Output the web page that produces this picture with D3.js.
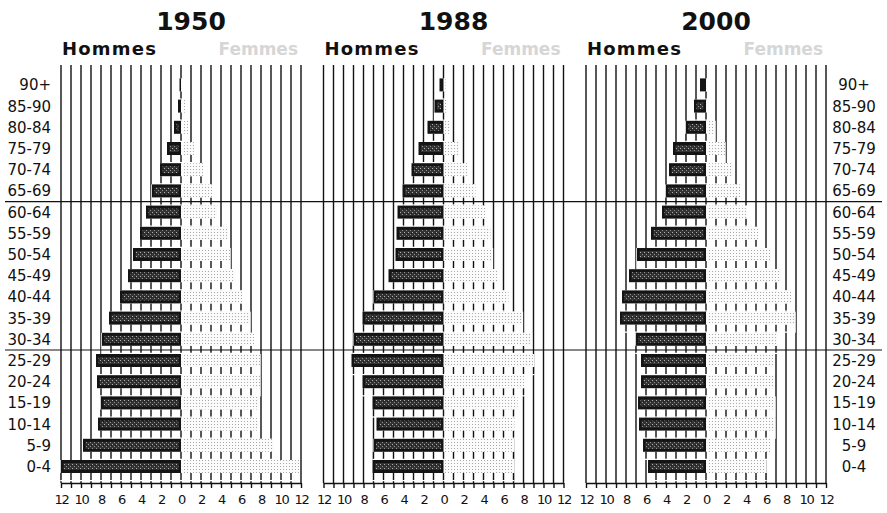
<!DOCTYPE html>
<html>
<head>
<meta charset="utf-8">
<script src="https://cdn.jsdelivr.net/npm/d3@7"></script>
<style>
  body { margin: 0; background: #fff; }
  svg { display: block; }
</style>
</head>
<body>
<div id="chart"></div>
<script>
// age groups, bottom to top
const ages = ["0-4", "5-9", "10-14", "15-19", "20-24", "25-29", "30-34", "35-39", "40-44",
              "45-49", "50-54", "55-59", "60-64", "65-69", "70-74", "75-79", "80-84", "85-90", "90+"];
const years = ["1950", "1988", "2000"];

// % of population, same order as ages
const hommes1950 = [12.0, 9.8, 8.3, 8.0, 8.4, 8.5, 7.9, 7.2, 6.1, 5.3, 4.8, 4.1, 3.5, 2.9, 2.1, 1.4, 0.7, 0.3, 0.15];
const femmes1950 = [11.8, 9.3, 7.7, 7.8, 7.9, 7.9, 7.3, 6.9, 6.1, 5.4, 4.9, 4.7, 3.6, 3.1, 2.2, 1.3, 0.7, 0.4, 0.2];
const hommes1988 = [7.1, 7.0, 6.7, 7.1, 8.1, 9.2, 9.0, 8.1, 7.0, 5.5, 4.8, 4.7, 4.6, 4.1, 3.2, 2.5, 1.6, 0.9, 0.4];
const femmes1988 = [7.0, 7.0, 7.1, 7.4, 8.1, 9.0, 8.8, 7.9, 6.5, 5.4, 4.9, 4.7, 4.2, 3.2, 2.4, 1.6, 0.7, 0.4, 0.2];
const hommes2000 = [5.8, 6.3, 6.7, 6.8, 6.5, 6.5, 7.0, 8.6, 8.4, 7.7, 6.9, 5.5, 4.4, 4.0, 3.7, 3.3, 2.0, 1.2, 0.6];
const femmes2000 = [6.0, 6.4, 6.9, 6.9, 6.8, 6.8, 7.1, 8.9, 8.5, 7.5, 6.5, 5.2, 4.1, 3.4, 2.7, 1.9, 0.9, 0.3, 0.2];

const axisMax = 12;
const sexLabels = ["Hommes", "Femmes"];

const w = 887;
const h = 513;
const svg = d3.select("#chart")
              .append("svg")
              .attr("width", w)
              .attr("height", h);

// textures for the printed bars
const defs = svg.append("defs");
let mp = defs.append("pattern").attr("id", "mp").attr("width", 4).attr("height", 4)
             .attr("patternUnits", "userSpaceOnUse");
mp.append("rect").attr("width", 4).attr("height", 4).attr("fill", "#333");
mp.append("rect").attr("x", 0).attr("y", 0).attr("width", 1).attr("height", 1).attr("fill", "#b0b0b0");
mp.append("rect").attr("x", 2).attr("y", 2).attr("width", 1).attr("height", 1).attr("fill", "#8c8c8c");
mp.append("rect").attr("x", 3).attr("y", 1).attr("width", 1).attr("height", 1).attr("fill", "#1a1a1a");
let fp = defs.append("pattern").attr("id", "fp").attr("width", 3).attr("height", 3)
             .attr("patternUnits", "userSpaceOnUse");
fp.append("rect").attr("width", 3).attr("height", 3).attr("fill", "#fbfbfb");
fp.append("rect").attr("x", 1).attr("y", 1).attr("width", 1).attr("height", 1).attr("fill", "#a8a8a8");

let y = d3.scaleBand()
          .domain(ages.slice().reverse())
          .range([74.4, 477.2]);
const barTop = 4;
const barH = 13;
const gridTop = 65;
const baseY = 483;

let panels = [
    {year: years[0], zero: 181, m: hommes1950, f: femmes1950},
    {year: years[1], zero: 443.5, m: hommes1988, f: femmes1988},
    {year: years[2], zero: 706, m: hommes2000, f: femmes2000}
];

panels.forEach(p => {
    let x = d3.scaleLinear()
              .domain([-axisMax, axisMax])
              .range([p.zero - 120, p.zero + 120]);
    let g = svg.append("g");
    let units = d3.range(-axisMax, axisMax + 1);
    let rows = ages.map((a, i) => ({age: a, m: p.m[i], f: p.f[i]}));

    // vertical grid, one line per unit
    g.selectAll("line.grid")
        .data(units)
        .enter()
        .append("line")
        .attr("x1", d => x(d)).attr("x2", d => x(d))
        .attr("y1", gridTop).attr("y2", baseY)
        .attr("stroke", "#111")
        .attr("stroke-width", 1.4);

    // the pyramid itself hides the grid
    g.selectAll("rect.cover")
        .data(rows)
        .enter()
        .append("rect")
        .attr("x", d => x(-d.m) - 0.7)
        .attr("width", d => x(d.f) - x(-d.m) + 1.4)
        .attr("y", d => y(d.age) + barTop)
        .attr("height", y.step())
        .attr("fill", "#fff");

    // small ticks under every bar
    let ticks = rows.flatMap(r => d3.range(-Math.floor(r.m), Math.floor(r.f) + 1).map(k => ({age: r.age, k: k})));
    g.selectAll("line.tk")
        .data(ticks)
        .enter()
        .append("line")
        .attr("x1", d => x(d.k)).attr("x2", d => x(d.k))
        .attr("y1", d => y(d.age) + barTop + barH)
        .attr("y2", d => y(d.age) + barTop + barH + 7)
        .attr("stroke", "#111")
        .attr("stroke-width", 1.4);

    // men
    g.selectAll("rect.m")
        .data(rows)
        .enter()
        .append("rect")
        .attr("x", d => x(-d.m))
        .attr("width", d => x(0) - x(-d.m))
        .attr("y", d => y(d.age) + barTop)
        .attr("height", barH)
        .attr("fill", "#141414");
    g.selectAll("rect.mi")
        .data(rows.filter(d => d.m > 0.6))
        .enter()
        .append("rect")
        .attr("x", d => x(-d.m) + 2.5)
        .attr("width", d => x(0) - x(-d.m) - 5)
        .attr("y", d => y(d.age) + barTop + 3)
        .attr("height", barH - 6)
        .attr("fill", "url(#mp)");

    // women
    g.selectAll("rect.f")
        .data(rows)
        .enter()
        .append("rect")
        .attr("x", x(0) + 0.8)
        .attr("width", d => x(d.f) - x(0) - 0.8)
        .attr("y", d => y(d.age) + barTop)
        .attr("height", barH)
        .attr("fill", "url(#fp)");

    // axis
    let axis = d3.axisBottom(x)
                 .tickValues(units)
                 .tickSize(5)
                 .tickSizeOuter(0)
                 .tickFormat(d => d % 2 === 0 ? Math.abs(d) : "");
    let ax = g.append("g")
              .attr("transform", `translate(0,${baseY})`)
              .call(axis);
    ax.select(".domain").attr("stroke", "#111").attr("stroke-width", 1.4);
    ax.selectAll(".tick line").attr("stroke", "#111").attr("stroke-width", 1.4);
    ax.selectAll(".tick text")
        .attr("y", 12)
        .style("font-family", "DejaVu Sans")
        .style("font-size", "13px")
        .style("letter-spacing", "-1.3px")
        .attr("fill", "#111");

    // titles
    g.append("text")
        .attr("x", p.zero + 10)
        .attr("y", 30)
        .attr("text-anchor", "middle")
        .style("font-family", "DejaVu Sans")
        .style("font-weight", "bold")
        .style("font-size", "25px")
        .attr("fill", "#111")
        .text(p.year);
    g.append("text")
        .attr("x", x(-axisMax) + 1)
        .attr("y", 55)
        .style("font-family", "DejaVu Sans")
        .style("font-weight", "bold")
        .style("font-size", "18px")
        .style("letter-spacing", "1.2px")
        .attr("fill", "#111")
        .text(sexLabels[0]);
    g.append("text")
        .attr("x", x(axisMax) - 3)
        .attr("y", 55)
        .attr("text-anchor", "end")
        .style("font-family", "DejaVu Sans")
        .style("font-weight", "bold")
        .style("font-size", "17px")
        .attr("fill", "#d6d6d6")
        .text(sexLabels[1]);
});

// horizontal separators
svg.selectAll("line.sep")
    .data(["60-64", "25-29"])
    .enter()
    .append("line")
    .attr("x1", 5).attr("x2", 882)
    .attr("y1", d => y(d)).attr("y2", d => y(d))
    .attr("stroke", "#111")
    .attr("stroke-width", 1.2);

// age labels on both sides
svg.selectAll("text.ageL")
    .data(ages)
    .enter()
    .append("text")
    .attr("x", 51)
    .attr("y", d => y(d) + y.step() / 2)
    .attr("dy", "0.36em")
    .attr("text-anchor", "end")
    .style("font-family", "DejaVu Sans")
    .style("font-size", "15px")
    .attr("fill", "#111")
    .text(d => d);
svg.selectAll("text.ageR")
    .data(ages)
    .enter()
    .append("text")
    .attr("x", 854)
    .attr("y", d => y(d) + y.step() / 2)
    .attr("dy", "0.36em")
    .attr("text-anchor", "middle")
    .style("font-family", "DejaVu Sans")
    .style("font-size", "15px")
    .attr("fill", "#111")
    .text(d => d);
</script>
</body>
</html>
